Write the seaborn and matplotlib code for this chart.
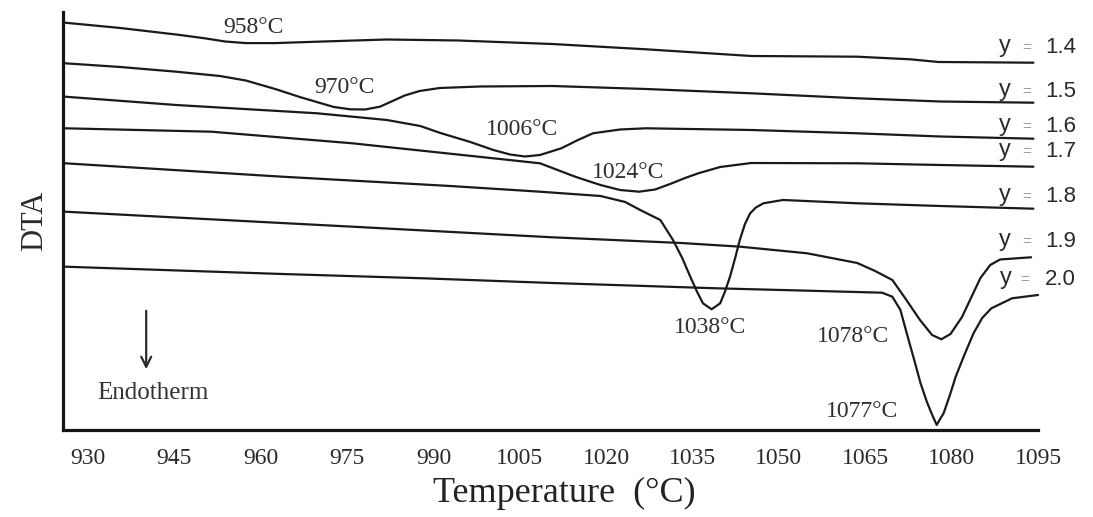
import numpy as np
import pandas as pd
import matplotlib
matplotlib.use("Agg")
import matplotlib.pyplot as plt
import seaborn as sns
from matplotlib.ticker import MultipleLocator

# ---------------- data ----------------
compositions = ["1.4", "1.5", "1.6", "1.7", "1.8", "1.9", "2.0"]

temp_14 = [926.0, 935.6, 946.0, 950.5, 953.8, 957.4, 962.5, 969.8, 981.9, 994.3, 1010.6, 1026.9, 1045.2, 1063.6, 1072.8, 1077.7, 1094.2]
dta_14 = [407.3, 402, 395, 391.5, 388.5, 386.9, 386.9, 388.3, 390.5, 389.5, 386, 380.7, 374, 373.3, 370.7, 368, 367.3]

temp_15 = [926.0, 935.6, 945.3, 952.9, 957.4, 962.5, 966.6, 970.3, 972.7, 975.5, 978.1, 980.7, 982.9, 985.0, 987.6, 991.1, 998.1, 1010.6, 1026.9, 1045.2, 1063.6, 1078.0, 1094.2]
dta_15 = [366.7, 363, 358.3, 354, 349.5, 341, 333.3, 327, 323, 320.7, 320.5, 323.3, 329, 334.5, 339, 342, 343.5, 344, 341, 336.7, 331.7, 328.5, 327.3]

temp_16 = [926.0, 945.3, 969.8, 981.9, 987.7, 991.2, 996.4, 1000.4, 1003.3, 1005.9, 1008.5, 1012.2, 1015.1, 1017.7, 1022.4, 1026.9, 1045.2, 1063.6, 1078.0, 1094.2]
dta_16 = [333.3, 325, 316.7, 310, 304, 297, 288, 280, 275.5, 273.5, 275, 281.7, 290, 296.7, 300.5, 301.7, 300, 296.7, 293.5, 291.3]

temp_17 = [926.0, 951.4, 975.9, 1000.4, 1008.5, 1014.6, 1019.0, 1022.4, 1025.7, 1028.5, 1031.1, 1033.7, 1036.0, 1039.8, 1045.2, 1063.6, 1078.0, 1094.2]
dta_17 = [301.7, 298.3, 286.7, 271.7, 266.7, 253.3, 245, 240, 238.3, 240.5, 246, 252, 256.7, 263, 267, 266.7, 265, 263.3]

temp_18 = [926.0, 963.7, 992.9, 1008.5, 1019.0, 1023.3, 1025.9, 1029.4, 1031.6, 1033.2, 1034.6, 1035.8, 1036.8, 1038.3, 1039.8, 1040.6, 1041.5, 1042.4, 1043.2, 1044.1, 1045.0, 1046.0, 1047.3, 1050.7, 1063.6, 1078.0, 1094.2]
dta_18 = [266.7, 253.3, 244, 238.3, 234, 228, 220, 210, 190, 172, 153.3, 138, 126.7, 120.7, 126.7, 138, 153.3, 172, 190, 206, 216.7, 222.5, 226.7, 230, 226.7, 224, 221.3]

temp_19 = [926.0, 975.9, 1010.6, 1033.0, 1043.3, 1054.9, 1063.6, 1066.7, 1069.7, 1071.9, 1074.5, 1076.6, 1078.2, 1079.8, 1081.8, 1083.6, 1085.0, 1086.7, 1088.4, 1093.8]
dta_19 = [218.3, 203.3, 192.7, 187, 183.3, 176.7, 167, 159, 150, 132, 110, 95, 90.7, 96, 113, 135, 152, 165, 170.5, 172.7]

temp_20 = [926.0, 963.7, 988.2, 1010.6, 1039.1, 1053.7, 1067.9, 1069.7, 1071.1, 1072.2, 1073.4, 1074.6, 1075.7, 1076.5, 1077.4, 1078.1, 1078.6, 1079.7, 1080.7, 1082.2, 1083.8, 1085.3, 1086.9, 1090.5, 1095.0]
dta_20 = [163.3, 156, 151.7, 147, 141.7, 139.5, 137.3, 133.3, 120, 96.7, 72, 46.7, 28, 16.7, 5, 12, 16.7, 35, 53.3, 75, 96.7, 112, 121.7, 131.7, 135]

peak_labels = ["958°C", "970°C", "1006°C", "1024°C", "1038°C", "1078°C", "1077°C"]
x_ticks = [930, 945, 960, 975, 990, 1005, 1020, 1035, 1050, 1065, 1080, 1095]

series = [(temp_14, dta_14), (temp_15, dta_15), (temp_16, dta_16), (temp_17, dta_17),
          (temp_18, dta_18), (temp_19, dta_19), (temp_20, dta_20)]
frames = []
for comp, (t, d) in zip(compositions, series):
    frames.append(pd.DataFrame({"T": t, "DTA": d, "y": comp}))
df = pd.concat(frames, ignore_index=True)

# ---------------- styling ----------------
sns.set_theme(style="white")
serif = ["Liberation Serif", "DejaVu Serif"]
sans = ["Liberation Sans", "DejaVu Sans"]
plt.rcParams["font.family"] = serif

fig = plt.figure(figsize=(10.93, 5.17), dpi=100)
ax = fig.add_axes([0.0579, 0.1683, 0.8918, 0.8085])

line_col = "#1a1a1a"
sns.lineplot(data=df, x="T", y="DTA", units="y", estimator=None, sort=False,
             color=line_col, linewidth=1.6, ax=ax, legend=False)
for l in ax.lines:
    l.set_clip_on(False)
    l.set_solid_joinstyle("round")

ax.set_xlim(925.7, 1095.0)
ax.set_ylim(0, 418)
ax.set_xticks(x_ticks)
ax.xaxis.set_minor_locator(MultipleLocator(7.5))
ax.set_yticks([])
for s in ["top", "right"]:
    ax.spines[s].set_visible(False)
for s in ["left", "bottom"]:
    ax.spines[s].set_linewidth(2.3)
    ax.spines[s].set_color("#151515")
ax.tick_params(axis="x", which="major", direction="out", length=6, width=1.9,
               colors="#151515", labelcolor="#2a2a2a", labelsize=17, pad=7)
ax.tick_params(axis="x", which="minor", direction="out", length=3.8, width=1.6,
               colors="#151515")
ax.set_xlabel("Temperature  (°C)", fontsize=26, color="#222222")
ax.xaxis.set_label_coords(0.514, -0.112)
ax.set_ylabel("DTA", fontsize=22, color="#2a2a2a", labelpad=10)

# peak annotations
label_pos = [(958.7, 402), (974.6, 342), (1005.4, 300), (1023.8, 257),
             (1038.0, 102), (1062.9, 93), (1064.4, 18)]
for txt, (tx, ty) in zip(peak_labels, label_pos):
    ax.text(tx, ty, txt, fontsize=17, color="#2e2e2e", ha="center", va="center")

# composition labels
comp_h = [382, 338.3, 303.3, 278.3, 233.3, 188.3, 150]
for comp, h in zip(compositions, comp_h):
    if comp == "2.0":
        yx, ex = 1089.5, 1092.6
    else:
        yx, ex = 1089.3, 1093.1
    ax.text(yx, h + 1.5, "y", fontsize=17, color="#2a2a2a", ha="center", va="center",
            family=sans, clip_on=False)
    ax.text(ex, h, "=", fontsize=11, color="#9a9a9a", ha="center", va="center",
            family=sans, clip_on=False)
    ax.text(1096.2, h, comp, fontsize=16, color="#2a2a2a", ha="left", va="center",
            family=sans, clip_on=False)

# endotherm arrow
ax.annotate("", xy=(940.1, 58), xytext=(940.1, 122),
            arrowprops=dict(arrowstyle="->", color="#2a2a2a", lw=1.6,
                            mutation_scale=18))
ax.text(941.3, 37, "Endotherm", fontsize=18, color="#333333", ha="center", va="center")

fig.savefig("out.png", dpi=100, facecolor="white")
